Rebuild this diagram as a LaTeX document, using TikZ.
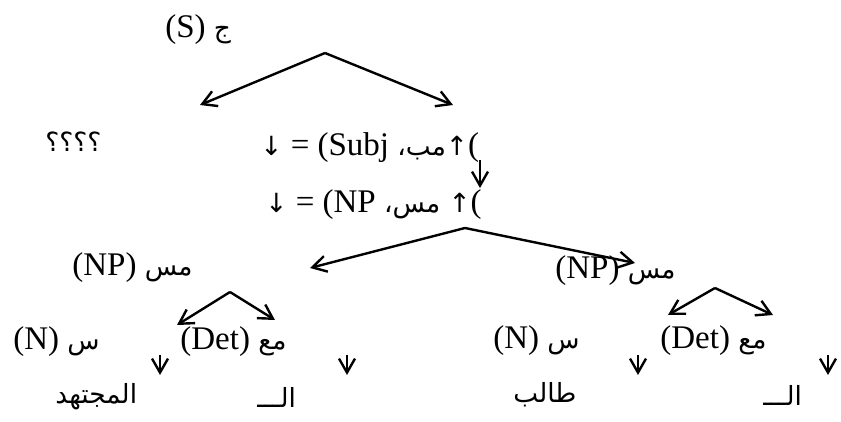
\documentclass[tikz,border=0pt]{standalone}
\usepackage{fontspec}
\setmainfont{Liberation Serif}
\newfontfamily\arabicfont[Script=Arabic,Scale=0.8]{DejaVu Sans}
\newfontfamily\symfont[Scale=0.8]{DejaVu Sans}
\TeXXeTstate=1
\usetikzlibrary{arrows.meta}
\newcommand{\artxt}[1]{{\arabicfont\beginR #1\endR}}

\begin{document}
\begin{tikzpicture}[x=0.5pt,y=-0.5pt,
  lbl/.style={anchor=west,inner sep=0pt,font=\fontsize{16.5}{19}\selectfont},
  branch/.style={draw=black,line width=1.2pt,-{Straight Barb[length=7pt,width=8pt]}}]
  \useasboundingbox (0,0) rectangle (841,422);
  % Labels of the tree.
  \node[lbl] (s)    at (165, 30)  {(S) \artxt{ج}};
  \node[lbl] (qq)   at (45, 142)  {\artxt{؟؟؟؟}};
  \node[lbl] (subj) at (260,148)  {{\symfont↓} = (Subj {\arabicfont ،}\artxt{مب}{\symfont↑}(};
  \node[lbl] (eqnp) at (265,205)  {{\symfont↓} = (NP {\arabicfont ،}\artxt{مس} {\symfont↑}(};
  \node[lbl] (npl)  at (72, 268)  {(NP) \artxt{مس}};
  \node[lbl] (npr)  at (555,271)  {(NP) \artxt{مس}};
  \node[lbl] (nl)   at (13, 342)  {(N) \artxt{س}};
  \node[lbl] (detl) at (180,342)  {(Det) \artxt{مع}};
  \node[lbl] (nr)   at (493,341)  {(N) \artxt{س}};
  \node[lbl] (detr) at (660,341)  {(Det) \artxt{مع}};
  \node[lbl] (wl1)  at (55, 397)  {\artxt{المجتهد}};
  \node[lbl] (wl2)  at (257,397)  {\artxt{الـــ}};
  \node[lbl] (wr1)  at (513,395)  {\artxt{طالب}};
  \node[lbl] (wr2)  at (763,395)  {\artxt{الـــ}};
  % Apexes and ends of the branches.
  \coordinate (a0) at (325, 53);
  \coordinate (t0l) at (200,105);
  \coordinate (t0r) at (453,105);
  \coordinate (a1) at (465,228);
  \coordinate (t1l) at (310,268);
  \coordinate (t1r) at (635,263);
  \coordinate (a2) at (230,292);
  \coordinate (t2l) at (177,325);
  \coordinate (t2r) at (275,320);
  \coordinate (a3) at (715,288);
  \coordinate (t3l) at (668,315);
  \coordinate (t3r) at (773,315);
  \coordinate (v0) at (480,160);
  \coordinate (w0) at (480,188);
  \foreach \a/\t in {a0/t0l,a0/t0r,a1/t1l,a1/t1r,a2/t2l,a2/t2r,a3/t3l,a3/t3r,v0/w0}
    \draw[branch] (\a) -- (\t);
  % Short arrows down to the words.
  \foreach \i/\x in {1/160,2/347,3/638,4/828} {
    \coordinate (d\i) at (\x,355);
    \coordinate (e\i) at (\x,375);
    \draw[branch] (d\i) -- (e\i);
  }
\end{tikzpicture}
\end{document}
